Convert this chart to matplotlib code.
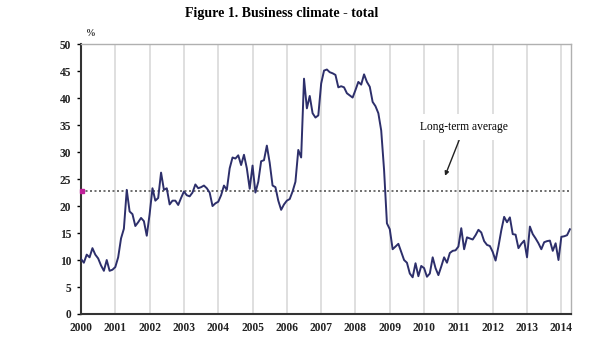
import matplotlib.pyplot as plt
import numpy as np

# monthly values, Jan 2000 .. Apr 2014
y2000 = [10.2, 9.5, 11.0, 10.5, 12.2, 11.0, 10.3, 9.0, 8.0, 10.0, 8.0, 8.2]
y2001 = [8.7, 10.5, 14.0, 15.8, 23.0, 19.0, 18.5, 16.3, 17.0, 17.8, 17.2, 14.5]
y2002 = [18.5, 23.3, 21.0, 21.5, 26.2, 23.0, 23.3, 20.3, 21.0, 21.0, 20.2, 21.5]
y2003 = [22.7, 22.0, 21.8, 22.5, 24.0, 23.3, 23.5, 23.8, 23.3, 22.5, 20.0, 20.5]
y2004 = [20.8, 22.0, 23.8, 23.0, 27.0, 29.0, 28.8, 29.4, 27.6, 29.5, 27.0, 23.2]
y2005 = [27.5, 22.5, 24.5, 28.3, 28.5, 31.2, 28.0, 23.8, 23.5, 21.0, 19.3, 20.3]
y2006 = [21.0, 21.3, 22.7, 24.5, 30.4, 29.0, 43.6, 38.1, 40.4, 37.2, 36.4, 36.8]
y2007 = [42.7, 45.1, 45.3, 44.8, 44.6, 44.3, 42.0, 42.2, 42.0, 40.9, 40.5, 40.1]
y2008 = [41.5, 43.0, 42.5, 44.4, 43.0, 42.1, 39.3, 38.5, 37.2, 34.0, 26.7, 16.8]
y2009 = [15.7, 12.0, 12.5, 13.0, 11.5, 10.0, 9.5, 7.5, 6.8, 9.4, 7.0, 8.9]
y2010 = [8.5, 6.9, 7.5, 10.5, 8.5, 7.2, 8.8, 10.5, 9.5, 11.3, 11.7, 11.8]
y2011 = [12.5, 15.9, 12.0, 14.2, 14.0, 13.8, 14.6, 15.6, 15.1, 13.5, 12.8, 12.6]
y2012 = [11.5, 9.9, 12.5, 15.5, 18.0, 17.0, 17.9, 14.8, 14.7, 12.2, 13.0, 13.6]
y2013 = [10.5, 16.2, 14.8, 14.0, 13.1, 12.0, 13.3, 13.5, 13.6, 11.7, 13.1, 10.0]
y2014 = [14.3, 14.4, 14.6, 15.7]

long_term_avg = 22.7
years = list(range(2000, 2015))

values = (y2000 + y2001 + y2002 + y2003 + y2004 + y2005 + y2006 + y2007 +
          y2008 + y2009 + y2010 + y2011 + y2012 + y2013 + y2014)
t = 2000 + np.arange(len(values)) / 12.0

serif = ['Liberation Serif', 'DejaVu Serif']

fig = plt.figure(figsize=(6, 3.56), dpi=100)
ax = fig.add_axes([0.135, 0.118, 0.816, 0.758])

for yr in years[1:]:
    ax.axvline(yr, color='#d9d9d9', lw=1.2, zorder=0)

ax.plot(t, values, color='#2d2f6b', lw=1.4, zorder=3)
ax.axhline(long_term_avg, color='#555555', lw=1.2, ls=(0, (1.2, 1.5)), zorder=2)
ax.plot([2000.02], [long_term_avg], marker='s', ms=3, color='#c0209a', zorder=4, clip_on=False)

ax.annotate('Long-term average', xy=(2010.61, 25.6), xytext=(2011.17, 34.6),
            ha='center', va='center', fontsize=8.3, family=serif,
            bbox=dict(boxstyle='square,pad=0.6', fc='white', ec='none'),
            arrowprops=dict(arrowstyle='-|>', color='#222222', lw=1.0,
                            mutation_scale=6, shrinkA=0, shrinkB=0), zorder=5)

ax.set_xlim(2000, 2014.27)
ax.set_ylim(0, 50)
ax.set_xticks(years)
ax.set_yticks(range(0, 51, 5))
ax.tick_params(axis='x', length=0, pad=6)
ax.tick_params(axis='y', length=3, width=1, direction='out', pad=4)
for lab in ax.get_xticklabels() + ax.get_yticklabels():
    lab.set_family(serif)
    lab.set_fontweight('bold')
    lab.set_fontsize(8.3)
    lab.set_color('#222222')

for s in ['left', 'bottom']:
    ax.spines[s].set_color('#333333')
    ax.spines[s].set_linewidth(1.5)
for s in ['top', 'right']:
    ax.spines[s].set_color('#b0b0b0')
    ax.spines[s].set_linewidth(1.0)

fig.text(0.143, 0.9, '%', fontsize=7, family=serif, fontweight='bold', color='#333333')
fig.text(0.47, 0.962, 'Figure 1. Business climate - total', ha='center', va='center',
         fontsize=10, family=serif, fontweight='bold')

fig.savefig('out.png', dpi=100)
